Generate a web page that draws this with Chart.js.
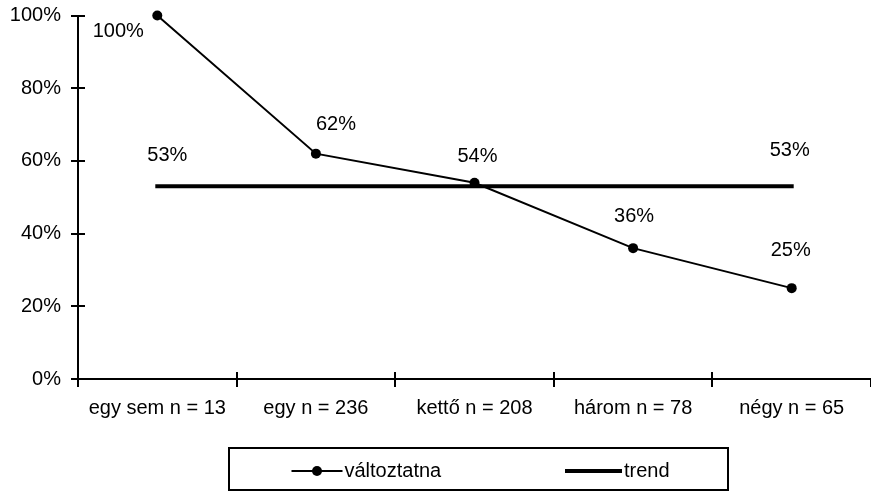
<!DOCTYPE html>
<html>
<head>
<meta charset="utf-8">
<script src="https://cdn.jsdelivr.net/npm/chart.js@4/dist/chart.umd.min.js"></script>
<style>
  html, body { margin: 0; padding: 0; background: #fff; overflow: hidden; }
  #wrap { position: relative; width: 876px; height: 492px; }
</style>
</head>
<body>
<div id="wrap"><canvas id="chart"></canvas></div>
<script>
// data
var categories = ['egy sem n = 13', 'egy n = 236', 'kettő n = 208', 'három n = 78', 'négy n = 65'];
var valtoztatna = [100, 62, 54, 36, 25];
var trend = [53, 53, 53, 53, 53];
var seriesNames = ['változtatna', 'trend'];

Chart.defaults.font.family = '"Liberation Sans", Arial, sans-serif';
Chart.defaults.font.size = 20;
Chart.defaults.color = '#000';

// value labels next to the points (offsets of the text centre from the point)
var pointLabels = {
  id: 'pointLabels',
  afterDatasetsDraw: function(chart) {
    var ctx = chart.ctx;
    ctx.save();
    ctx.font = '20px "Liberation Sans", Arial, sans-serif';
    ctx.fillStyle = '#000';
    ctx.textAlign = 'center';
    ctx.textBaseline = 'middle';
    chart.data.datasets.forEach(function(ds, di) {
      var meta = chart.getDatasetMeta(di);
      meta.data.forEach(function(pt, i) {
        var off = ds.labelOffsets[i];
        if (!off) return;
        ctx.fillText(ds.data[i] + '%', pt.x + off[0], pt.y + off[1]);
      });
    });
    ctx.restore();
  }
};

// ticks that cross the axis lines
var innerTicks = {
  id: 'innerTicks',
  afterDraw: function(chart) {
    var ctx = chart.ctx, a = chart.chartArea;
    var x = chart.scales.x, y = chart.scales.y;
    ctx.save();
    ctx.strokeStyle = '#000';
    ctx.lineWidth = 2;
    ctx.beginPath();
    y.ticks.forEach(function(t, i) {
      var py = Math.round(y.getPixelForTick(i));
      ctx.moveTo(a.left, py);
      ctx.lineTo(a.left + 7, py);
    });
    for (var i = 1; i < categories.length; i++) {
      var px = Math.round((x.getPixelForValue(i - 1) + x.getPixelForValue(i)) / 2);
      ctx.moveTo(px, a.bottom);
      ctx.lineTo(px, a.bottom - 7);
    }
    ctx.stroke();
    ctx.restore();
  }
};

// framed legend below the x axis
var boxLegend = {
  id: 'boxLegend',
  afterDraw: function(chart) {
    var ctx = chart.ctx;
    var cx = 478.5;
    var top = 448, h = 42, halfW = 249.5;
    var cy = top + h / 2 + 2;
    var starts = [-187, 86.5];
    var widths = [51, 57];
    ctx.save();
    ctx.strokeStyle = '#000';
    ctx.lineWidth = 2;
    ctx.strokeRect(Math.round(cx - halfW), top, halfW * 2, h);
    ctx.font = '20px "Liberation Sans", Arial, sans-serif';
    ctx.fillStyle = '#000';
    ctx.textBaseline = 'middle';
    chart.data.datasets.forEach(function(ds, i) {
      var x0 = cx + starts[i];
      ctx.lineWidth = ds.borderWidth;
      ctx.beginPath();
      ctx.moveTo(x0, cy);
      ctx.lineTo(x0 + widths[i], cy);
      ctx.stroke();
      if (ds.pointRadius > 0) {
        ctx.beginPath();
        ctx.arc(x0 + widths[i] / 2, cy, ds.pointRadius, 0, Math.PI * 2);
        ctx.fill();
      }
      ctx.fillText(ds.label, x0 + widths[i] + 2, cy);
    });
    ctx.restore();
  }
};

var ctx = document.getElementById('chart').getContext('2d');
var chart = new Chart(ctx, {
  type: 'line',
  data: {
    labels: categories,
    datasets: [{
      label: seriesNames[0],
      data: valtoztatna,
      borderColor: '#000',
      backgroundColor: '#000',
      borderWidth: 2,
      pointRadius: 5,
      pointBorderWidth: 0,
      tension: 0,
      clip: false,
      labelOffsets: [[-39, 16], [20, -29], [3, -26], [1, -32], [-1, -38]]
    }, {
      label: seriesNames[1],
      data: trend,
      borderColor: '#000',
      backgroundColor: '#000',
      borderWidth: 4,
      borderCapStyle: 'square',
      pointRadius: 0,
      tension: 0,
      clip: false,
      labelOffsets: [[10, -31], null, null, null, [-2, -36]]
    }]
  },
  options: {
    responsive: true,
    maintainAspectRatio: false,
    animation: false,
    layout: { padding: { left: 10, top: 15.5, right: 0, bottom: 72 } },
    plugins: {
      legend: { display: false },
      tooltip: { enabled: false }
    },
    scales: {
      x: {
        offset: true,
        afterFit: function(s) { s.height = 41; s.paddingLeft = 0; s.paddingRight = 0; },
        grid: { offset: true, drawOnChartArea: false, color: '#000', lineWidth: 2, tickLength: 8 },
        border: { color: '#000', width: 2 },
        ticks: { padding: 9, maxRotation: 0, autoSkip: false }
      },
      y: {
        min: 0,
        max: 100,
        afterFit: function(s) { s.width = 68; s.paddingTop = 0; s.paddingBottom = 0; },
        grid: { drawOnChartArea: false, color: '#000', lineWidth: 2, tickLength: 7 },
        border: { color: '#000', width: 2 },
        ticks: {
          stepSize: 20,
          padding: 10,
          callback: function(v) { return v + '%'; }
        }
      }
    }
  },
  plugins: [pointLabels, innerTicks, boxLegend]
});
</script>
</body>
</html>
